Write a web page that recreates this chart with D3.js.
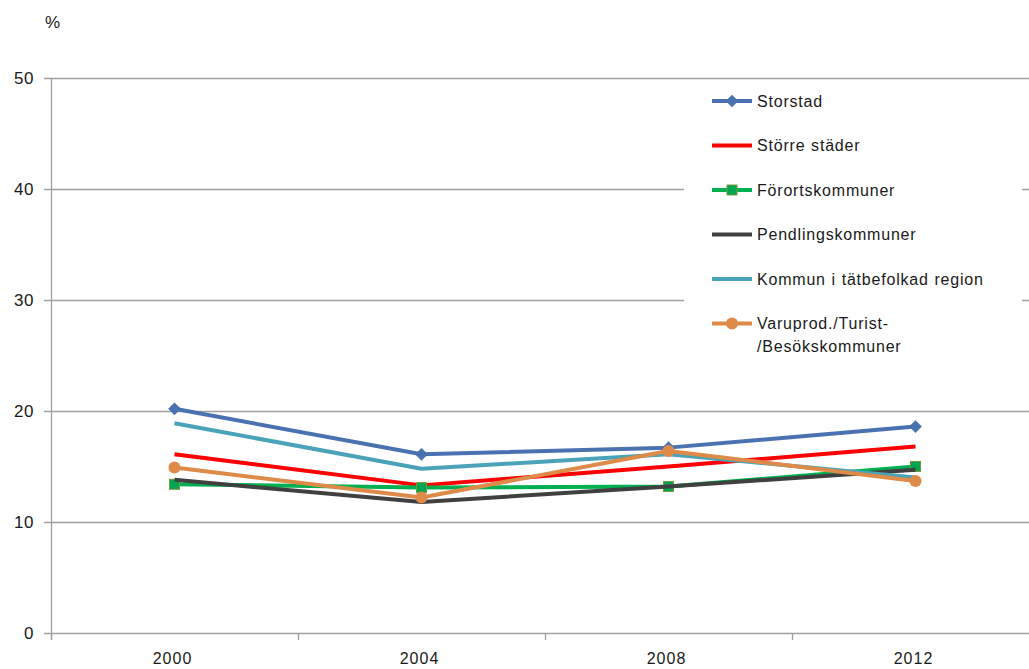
<!DOCTYPE html>
<html>
<head>
<meta charset="utf-8">
<script src="https://cdn.jsdelivr.net/npm/d3@7"></script>
<style>
  body { margin: 0; background: #fff; }
  text { font-family: "Liberation Sans", Arial, sans-serif; fill: #1a1a1a; }
</style>
</head>
<body>
<div id="chart"></div>
<script>
// chart data
var years = ["2000", "2004", "2008", "2012"];
var yTicks = [0, 10, 20, 30, 40, 50];

var storstad = [20.2, 16.1, 16.7, 18.6];
var storreStader = [16.1, 13.3, 15.0, 16.8];
var forort = [13.4, 13.1, 13.2, 15.0];
var pendling = [13.8, 11.8, 13.2, 14.7];
var tatbefolkad = [18.9, 14.8, 16.1, 14.0];
var varuprod = [14.9, 12.2, 16.4, 13.7];

var series = [
    {name: ["Storstad"], values: storstad, color: "#4a72b0", marker: "diamond"},
    {name: ["Större städer"], values: storreStader, color: "#ff0000", marker: null},
    {name: ["Förortskommuner"], values: forort, color: "#00b050", marker: "square"},
    {name: ["Pendlingskommuner"], values: pendling, color: "#404040", marker: null},
    {name: ["Kommun i tätbefolkad region"], values: tatbefolkad, color: "#4aa3b8", marker: null},
    {name: ["Varuprod./Turist-", "/Besökskommuner"], values: varuprod, color: "#de8a48", marker: "circle"}
];

function main() {
    var width = 1029, height = 669;
    var margin = {left: 51, top: 78, bottom: 36};
    var plotRight = 1039;

    var svg = d3.select("#chart").append("svg")
        .attr("width", width)
        .attr("height", height);

    var x = d3.scaleBand()
        .domain(years)
        .range([margin.left, plotRight])
        .padding(0);

    var y = d3.scaleLinear()
        .domain([0, 50])
        .range([height - margin.bottom, margin.top]);

    // gridlines
    svg.append("g").selectAll("line")
        .data(yTicks)
        .enter().append("line")
        .attr("x1", margin.left - 7)
        .attr("x2", width)
        .attr("y1", function (d) { return Math.round(y(d)) + 0.5; })
        .attr("y2", function (d) { return Math.round(y(d)) + 0.5; })
        .style("stroke", "#a0a0a0")
        .style("stroke-width", 1.3);

    // y axis line
    svg.append("line")
        .attr("x1", margin.left + 0.5).attr("x2", margin.left + 0.5)
        .attr("y1", y(50)).attr("y2", y(0) + 7)
        .style("stroke", "#a0a0a0")
        .style("stroke-width", 1.3);

    // x tick marks between categories
    var bounds = years.map(function (d) { return x(d); }).concat([x(years[3]) + x.bandwidth()]);
    svg.append("g").selectAll("line")
        .data(bounds)
        .enter().append("line")
        .attr("x1", function (d) { return Math.round(d) + 0.5; })
        .attr("x2", function (d) { return Math.round(d) + 0.5; })
        .attr("y1", y(0))
        .attr("y2", y(0) + 7)
        .style("stroke", "#a0a0a0")
        .style("stroke-width", 1.3);

    // y labels
    svg.append("g").selectAll("text")
        .data(yTicks)
        .enter().append("text")
        .attr("x", 34)
        .attr("y", function (d) { return y(d); })
        .attr("dy", "0.35em")
        .attr("text-anchor", "end")
        .style("font-size", "17px")
        .style("letter-spacing", "0.5px")
        .text(function (d) { return d; });

    // x labels
    svg.append("g").selectAll("text")
        .data(years)
        .enter().append("text")
        .attr("x", function (d) { return x(d) + x.bandwidth() / 2 - 2; })
        .attr("y", height - 5)
        .attr("text-anchor", "middle")
        .style("font-size", "16px")
        .style("letter-spacing", "1px")
        .text(function (d) { return d; });

    svg.append("text")
        .attr("x", 45)
        .attr("y", 28)
        .style("font-size", "17px")
        .text("%");

    // legend background covers the gridlines
    var lg = svg.append("g");
    lg.append("rect")
        .attr("x", 684).attr("y", 81)
        .attr("width", 338).attr("height", 284)
        .style("fill", "#fff");

    var line = d3.line()
        .x(function (d, i) { return x(years[i]) + x.bandwidth() / 2; })
        .y(function (d) { return y(d); });

    function drawMarker(g, type, color, cx, cy) {
        if (type === "diamond") {
            g.append("rect")
                .attr("x", -4.5).attr("y", -4.5)
                .attr("width", 9).attr("height", 9)
                .attr("transform", "translate(" + cx + "," + cy + ") rotate(45)")
                .style("fill", color);
        } else if (type === "square") {
            g.append("rect")
                .attr("x", cx - 5).attr("y", cy - 5)
                .attr("width", 10).attr("height", 10)
                .style("fill", "#00a64f")
                .style("stroke", "#7a9a3a")
                .style("stroke-width", 1);
        } else if (type === "circle") {
            g.append("circle")
                .attr("cx", cx).attr("cy", cy).attr("r", 6)
                .style("fill", color);
        }
    }

    series.forEach(function (s, k) {
        var g = svg.append("g");
        g.append("path")
            .datum(s.values)
            .attr("d", line)
            .style("fill", "none")
            .style("stroke", s.color)
            .style("stroke-width", 4)
            .style("stroke-linejoin", "round");
        s.values.forEach(function (v, i) {
            drawMarker(g, s.marker, s.color, x(years[i]) + x.bandwidth() / 2, y(v));
        });

        // legend entry
        var ly = 101 + k * 44.5;
        lg.append("line")
            .attr("x1", 712).attr("x2", 752)
            .attr("y1", ly).attr("y2", ly)
            .style("stroke", s.color)
            .style("stroke-width", 4);
        drawMarker(lg, s.marker, s.color, 732, ly);
        s.name.forEach(function (t, j) {
            lg.append("text")
                .attr("x", 757)
                .attr("y", ly + j * 23)
                .attr("dy", "0.35em")
                .style("font-size", "16px")
                .style("letter-spacing", "0.8px")
                .style("word-spacing", "0.5px")
                .text(t);
        });
    });
}

main();
</script>
</body>
</html>
